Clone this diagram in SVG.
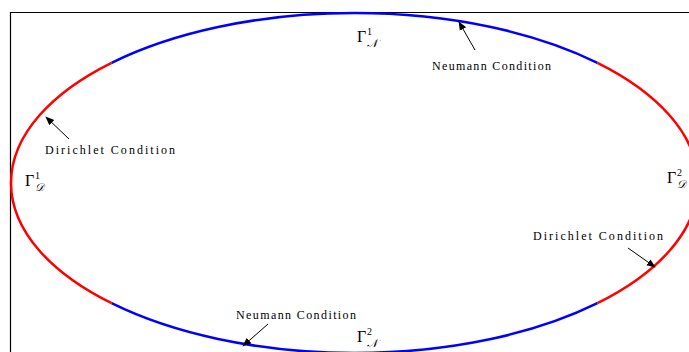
<svg xmlns="http://www.w3.org/2000/svg" width="689" height="352" viewBox="0 0 689 352">
<style>
.frame{fill:none;stroke:#000;stroke-width:1.2}
.red{fill:none;stroke:#ff0000;stroke-width:2.5}
.blue{fill:none;stroke:#0000ff;stroke-width:2.5}
.lbl{font-family:"Liberation Serif",serif;font-size:12px;fill:#000}
.g{font-family:"Liberation Serif",serif;font-size:16px;fill:#000}
.sub{font-family:"DejaVu Serif","Liberation Serif",serif;font-size:11px;font-style:italic;fill:#000}
.sup{font-family:"Liberation Serif",serif;font-size:10px;fill:#000}
.arr{stroke:#000;stroke-width:1;fill:none;marker-end:url(#ah)}
</style>
<defs>
<marker id="ah" viewBox="0 0 10 10" refX="9" refY="5" markerWidth="9" markerHeight="9" markerUnits="userSpaceOnUse" orient="auto">
<path d="M0,1 L10,5 L0,9 Z" fill="#000"/>
</marker>
</defs>
<rect width="689" height="352" fill="#fff"/>
<path class="frame" d="M10.5,352 L10.5,12.5 L689,12.5"/>
<g id="boundary">
<path id="gammaN1" class="blue" d="M111.6,62.8 A343.5,170 0 0 1 597.4,62.8"/>
<path id="gammaD2" class="red" d="M597.4,62.8 A343.5,170 0 0 1 597.4,303.2"/>
<path id="gammaN2" class="blue" d="M597.4,303.2 A343.5,170 0 0 1 111.6,303.2"/>
<path id="gammaD1" class="red" d="M111.6,303.2 A343.5,170 0 0 1 111.6,62.8"/>
</g>
<g id="labels">
<g id="lN1"><text class="g" x="357" y="42">Γ</text><text class="sup" x="367" y="35">1</text><text class="sub" x="367" y="47">𝒩</text></g>
<g id="lD1"><text class="g" x="25" y="186">Γ</text><text class="sup" x="35" y="179">1</text><text class="sub" x="35" y="191">𝒟</text></g>
<g id="lD2"><text class="g" x="667" y="183">Γ</text><text class="sup" x="677" y="176">2</text><text class="sub" x="677" y="188">𝒟</text></g>
<g id="lN2"><text class="g" x="357" y="342">Γ</text><text class="sup" x="367" y="335">2</text><text class="sub" x="367" y="347">𝒩</text></g>
</g>
<g id="notes">
<text class="lbl" x="432" y="70" textLength="119" lengthAdjust="spacing">Neumann Condition</text>
<text class="lbl" x="45" y="154" textLength="130" lengthAdjust="spacing">Dirichlet Condition</text>
<text class="lbl" x="533" y="240" textLength="130" lengthAdjust="spacing">Dirichlet Condition</text>
<text class="lbl" x="236" y="319" textLength="120" lengthAdjust="spacing">Neumann Condition</text>
</g>
<g id="connectors">
<line class="arr" x1="475" y1="50" x2="459" y2="22"/>
<line class="arr" x1="69" y1="139" x2="46" y2="117"/>
<line class="arr" x1="628" y1="248" x2="655" y2="267"/>
<line class="arr" x1="268" y1="324" x2="243" y2="346"/>
</g>
</svg>
